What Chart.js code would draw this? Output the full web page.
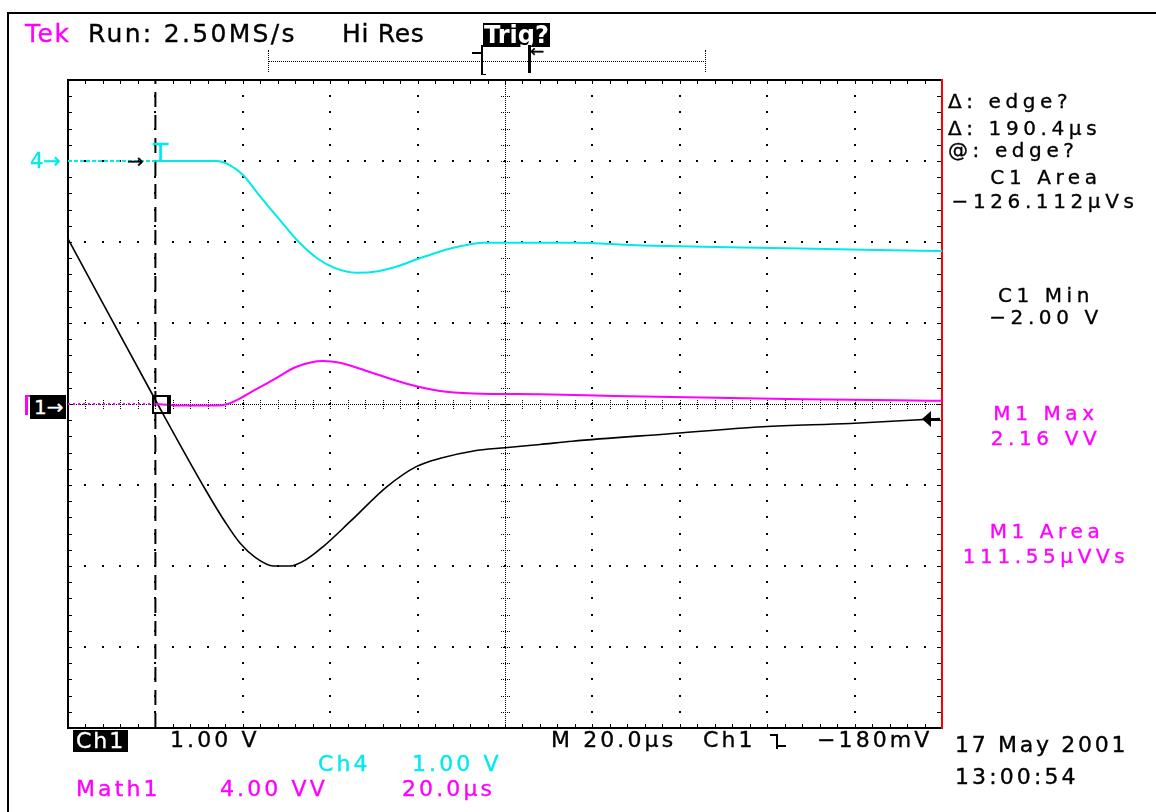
<!DOCTYPE html>
<html>
<head>
<meta charset="utf-8">
<title>Tek scope capture</title>
<script src="https://cdn.jsdelivr.net/npm/chart.js@4.4.1/dist/chart.umd.min.js"></script>
<style>
  html, body { margin: 0; padding: 0; background: #fff; }
  #screen { position: relative; width: 1156px; height: 812px; overflow: hidden; }
  #scope { position: absolute; left: 0; top: 0; }
  .t { position: absolute; font-family: 'DejaVu Sans', sans-serif; line-height: 1; white-space: pre; color: #000; -webkit-text-stroke: 0.35px currentColor; }
  .hdr { font-size: 25px; top: 21px; }
  .ro { font-size: 20px; letter-spacing: 4.6px; }
  .ctr { width: 300px; text-align: center; }
  .bt { font-size: 22px; letter-spacing: 3.1px; }
  .cy { color: #00EAEA; }
  .mg { color: #FF00FF; }
  .inv { background: #000; color: #fff; }
  .box { position: absolute; }
</style>
</head>
<body>
<div id="screen">
  <canvas id="scope" width="1156" height="812"></canvas>

  <!-- outer frame -->
  <div class="box" style="left:7px; top:12px; width:1200px; height:900px; border-left:2px solid #000; border-top:2px solid #000;"></div>

  <!-- header -->
  <div class="t hdr mg" style="left:25px; letter-spacing:1.5px;">Tek</div>
  <div class="t hdr" style="left:88px; letter-spacing:2.3px;">Run: 2.50MS/s</div>
  <div class="t hdr" style="left:342px; letter-spacing:0.7px;">Hi Res</div>
  <div class="t inv" style="left:483px; top:23px; font-size:24px; font-weight:bold; padding:0 1px; -webkit-text-stroke:0;">Trig?</div>

  <!-- record view bar -->
  <div class="box" style="left:268px; top:61px; width:438px; border-top:1px dotted #000;"></div>
  <div class="box" style="left:268px; top:50px; height:22px; border-left:1px dotted #000;"></div>
  <div class="box" style="left:705px; top:50px; height:22px; border-left:1px dotted #000;"></div>
  <div class="box" style="left:472px; top:52px; width:9px; border-top:2px solid #000;"></div>
  <div class="box" style="left:481px; top:45px; width:3px; height:28px; border-left:2px solid #000; border-top:1px solid #000; border-bottom:1px solid #000;"></div>
  <div class="box" style="left:525px; top:45px; width:3px; height:28px; border-right:3px solid #000;"></div>
  <div class="t" style="left:530px; top:43px; font-size:17px;">←</div>

  <!-- right readouts -->
  <div class="t ro" style="left:948px; top:91px;">Δ: edge?</div>
  <div class="t ro" style="left:948px; top:118px;">Δ: 190.4µs</div>
  <div class="t ro" style="left:948px; top:140px;">@: edge?</div>
  <div class="t ro ctr" style="left:896px; top:167px;">C1 Area</div>
  <div class="t ro ctr" style="left:895px; top:191px;">−126.112µVs</div>
  <div class="t ro ctr" style="left:896px; top:285px;">C1 Min</div>
  <div class="t ro ctr" style="left:896px; top:307px;">−2.00 V</div>
  <div class="t ro ctr mg" style="left:896px; top:403px;">M1 Max</div>
  <div class="t ro ctr mg" style="left:896px; top:428px;">2.16 VV</div>
  <div class="t ro ctr mg" style="left:897px; top:521px;">M1 Area</div>
  <div class="t ro ctr mg" style="left:896px; top:546px;">111.55µVVs</div>

  <!-- left markers -->
  <div class="t cy" style="left:30px; top:151px; font-size:21px;">4→</div>
  <div class="t" style="left:127px; top:151px; font-size:20px;">→</div>
  <div class="t cy" style="left:153px; top:140px; font-size:25px;">T</div>
  <div class="box" style="left:25px; top:395px; width:4px; height:18px; border-left:3px solid #FF00FF; border-top:2px solid #FF00FF;"></div>
  <div class="t inv" style="left:30px; top:395px; font-size:20px; padding:2px 3px 2px 4px;">1→</div>
  <div class="box" style="left:152px; top:395px; width:13px; height:15px; border:2px solid #000; border-right-width:4px;"></div>

  <!-- bottom status -->
  <div class="t bt inv" style="left:73px; top:730px; letter-spacing:2px; padding:0 3px;">Ch1</div>
  <div class="t bt" style="left:170px; top:729px;">1.00 V</div>
  <div class="t bt" style="left:551px; top:729px;">M 20.0µs</div>
  <div class="t bt" style="left:703px; top:729px;">Ch1</div>
  <div class="box" style="left:770px; top:734px; width:6px; height:13px; border-top:2px solid #000; border-right:2px solid #000;"></div>
  <div class="box" style="left:778px; top:745px; width:8px; border-bottom:2px solid #000;"></div>
  <div class="t bt" style="left:817px; top:729px;">−180mV</div>
  <div class="t bt" style="left:955px; top:734px; letter-spacing:2.7px;">17 May 2001</div>
  <div class="t bt" style="left:955px; top:766px;">13:00:54</div>
  <div class="t bt cy" style="left:318px; top:753px;">Ch4</div>
  <div class="t bt cy" style="left:412px; top:753px;">1.00 V</div>
  <div class="t bt mg" style="left:76px; top:778px;">Math1</div>
  <div class="t bt mg" style="left:220px; top:778px;">4.00 VV</div>
  <div class="t bt mg" style="left:402px; top:778px;">20.0µs</div>
</div>

<script>
// Time in µs from the left edge of the graticule (20 µs/div),
// levels in screen divisions (Ch1 1 V/div, Ch4 1 V/div offset +3, Math1 4 VV/div)
const timeTicks = [0, 20, 40, 60, 80, 100, 120, 140, 160, 180, 200];
const levelTicks = [-4, -3, -2, -1, 0, 1, 2, 3, 4];

const ch1Time  = [0, 20.5, 31.7, 36, 39.4, 43, 47, 50.8, 54.5, 58.4, 64.6, 73, 79.8, 85.2, 92.8, 100, 108, 115.4, 137, 159, 179, 199.5];
const ch1Level = [2.04, 0, -1.08, -1.46, -1.72, -1.90, -2.0, -2.0, -1.92, -1.76, -1.45, -1.02, -0.77, -0.67, -0.58, -0.54, -0.50, -0.46, -0.37, -0.28, -0.24, -0.18];

const ch4Time  = [0, 20, 34, 37, 40, 44, 48.5, 53, 57, 61, 66, 71, 76, 80, 85, 90, 95, 116, 130, 158, 185, 200];
const ch4Level = [3.0, 3.0, 3.0, 2.95, 2.83, 2.56, 2.27, 1.99, 1.80, 1.68, 1.62, 1.64, 1.71, 1.79, 1.88, 1.95, 1.99, 1.99, 1.96, 1.93, 1.90, 1.89];

const math1Time  = [0, 20, 25, 34, 36.5, 39.4, 43, 47, 52.3, 58.4, 62.2, 69.9, 77.5, 85.1, 92.7, 108, 125, 145, 168, 190, 200];
const math1Level = [0, 0, -0.02, -0.02, 0.0, 0.07, 0.18, 0.30, 0.46, 0.53, 0.51, 0.38, 0.25, 0.16, 0.13, 0.12, 0.10, 0.08, 0.06, 0.045, 0.04];

const cursorTime = 20;
const triggerLevel = -0.18;

function toPoints(times, levels) {
    return times.map((t, i) => ({ x: t, y: levels[i] }));
}

// pre-trigger part of the record is drawn sparse
const preTriggerDash = (dash) => ({
    borderDash: ctx => ctx.p1.parsed.x <= cursorTime ? dash : undefined
});

// dotted graticule, border ticks, red right edge
const graticule = {
    id: 'graticule',
    beforeDatasetsDraw(chart) {
        const { ctx, chartArea: a, scales: { x, y } } = chart;
        const xs = [], ys = [];
        for (let i = 0; i < timeTicks.length - 1; i++) {
            const step = (timeTicks[i + 1] - timeTicks[i]) / 5;
            for (let k = 0; k < 5; k++) xs.push(x.getPixelForValue(timeTicks[i] + k * step));
        }
        xs.push(x.getPixelForValue(timeTicks[timeTicks.length - 1]));
        for (let i = 0; i < levelTicks.length - 1; i++) {
            const step = (levelTicks[i + 1] - levelTicks[i]) / 5;
            for (let k = 0; k < 5; k++) ys.push(y.getPixelForValue(levelTicks[i] + k * step));
        }
        ys.push(y.getPixelForValue(levelTicks[levelTicks.length - 1]));

        const midT = timeTicks[(timeTicks.length - 1) / 2];
        const midL = levelTicks[(levelTicks.length - 1) / 2];
        const cx = Math.round(x.getPixelForValue(midT));
        const cy = Math.round(y.getPixelForValue(midL));

        ctx.save();
        ctx.fillStyle = '#000';
        const dot = (px, py) => ctx.fillRect(Math.round(px) - 1, Math.round(py) - 1, 2, 2);

        timeTicks.slice(1, -1).forEach(t => {
            if (t === midT) return;
            const px = x.getPixelForValue(t);
            ys.forEach(py => dot(px, py));
        });
        levelTicks.slice(1, -1).forEach(v => {
            if (v === midL) return;
            const py = y.getPixelForValue(v);
            xs.forEach(px => dot(px, py));
        });

        // centre cross
        for (let py = a.top; py <= a.bottom; py += 2) ctx.fillRect(cx, Math.round(py), 1, 1);
        for (let px = a.left; px <= a.right; px += 2) ctx.fillRect(Math.round(px), cy, 1, 1);
        ys.forEach(py => { for (let d = -4; d <= 4; d += 2) ctx.fillRect(cx + d, Math.round(py), 1, 1); });
        xs.forEach(px => { for (let d = -4; d <= 4; d += 2) ctx.fillRect(Math.round(px), cy + d, 1, 1); });

        // border ticks
        xs.forEach(px => {
            ctx.fillRect(Math.round(px), a.top, 1, 4);
            ctx.fillRect(Math.round(px), a.bottom - 4, 1, 4);
        });
        ys.forEach(py => {
            ctx.fillRect(a.left, Math.round(py), 4, 1);
            ctx.fillRect(a.right - 5, Math.round(py), 4, 1);
        });

        // frame
        ctx.fillRect(a.left - 1, a.top - 1, a.right - a.left + 1, 2);
        ctx.fillRect(a.left - 1, a.top - 1, 2, a.bottom - a.top + 2);
        ctx.fillRect(a.left - 1, a.bottom - 1, a.right - a.left + 1, 2);
        ctx.fillStyle = '#FF0000';
        ctx.fillRect(a.right - 1, a.top - 1, 2, a.bottom - a.top + 2);
        ctx.restore();
    },
    afterDatasetsDraw(chart) {
        // trigger level arrow on the right edge
        const { ctx, chartArea: a, scales: { y } } = chart;
        const py = Math.round(y.getPixelForValue(triggerLevel));
        ctx.save();
        ctx.fillStyle = '#000';
        ctx.beginPath();
        ctx.moveTo(a.right - 20, py);
        ctx.lineTo(a.right - 11, py - 8);
        ctx.lineTo(a.right - 11, py + 8);
        ctx.closePath();
        ctx.fill();
        ctx.fillRect(a.right - 12, py - 1, 10, 3);
        ctx.restore();
    }
};

const canvas = document.getElementById('scope');
new Chart(canvas.getContext('2d'), {
    type: 'line',
    data: {
        datasets: [
            {
                label: 'Ch4',
                data: toPoints(ch4Time, ch4Level),
                borderColor: '#00EAEA',
                borderWidth: 2,
                cubicInterpolationMode: 'monotone',
                segment: preTriggerDash([4, 2])
            },
            {
                label: 'Math1',
                data: toPoints(math1Time, math1Level),
                borderColor: '#FF00FF',
                borderWidth: 2,
                cubicInterpolationMode: 'monotone',
                segment: preTriggerDash([2, 3])
            },
            {
                label: 'Ch1',
                data: toPoints(ch1Time, ch1Level),
                borderColor: '#000000',
                borderWidth: 1.6,
                cubicInterpolationMode: 'monotone'
            },
            {
                label: 'cursor',
                data: [{ x: cursorTime, y: levelTicks[0] }, { x: cursorTime, y: levelTicks[levelTicks.length - 1] }],
                borderColor: '#000000',
                borderWidth: 2,
                borderDash: [15, 8]
            }
        ]
    },
    options: {
        responsive: false,
        devicePixelRatio: 1,
        animation: false,
        layout: { padding: { left: 68, right: 214, top: 80, bottom: 84 } },
        elements: { point: { radius: 0 } },
        scales: {
            x: { type: 'linear', min: timeTicks[0], max: timeTicks[timeTicks.length - 1], display: false },
            y: { type: 'linear', min: levelTicks[0], max: levelTicks[levelTicks.length - 1], display: false }
        },
        plugins: {
            legend: { display: false },
            tooltip: { enabled: false }
        }
    },
    plugins: [graticule]
});
</script>
</body>
</html>
